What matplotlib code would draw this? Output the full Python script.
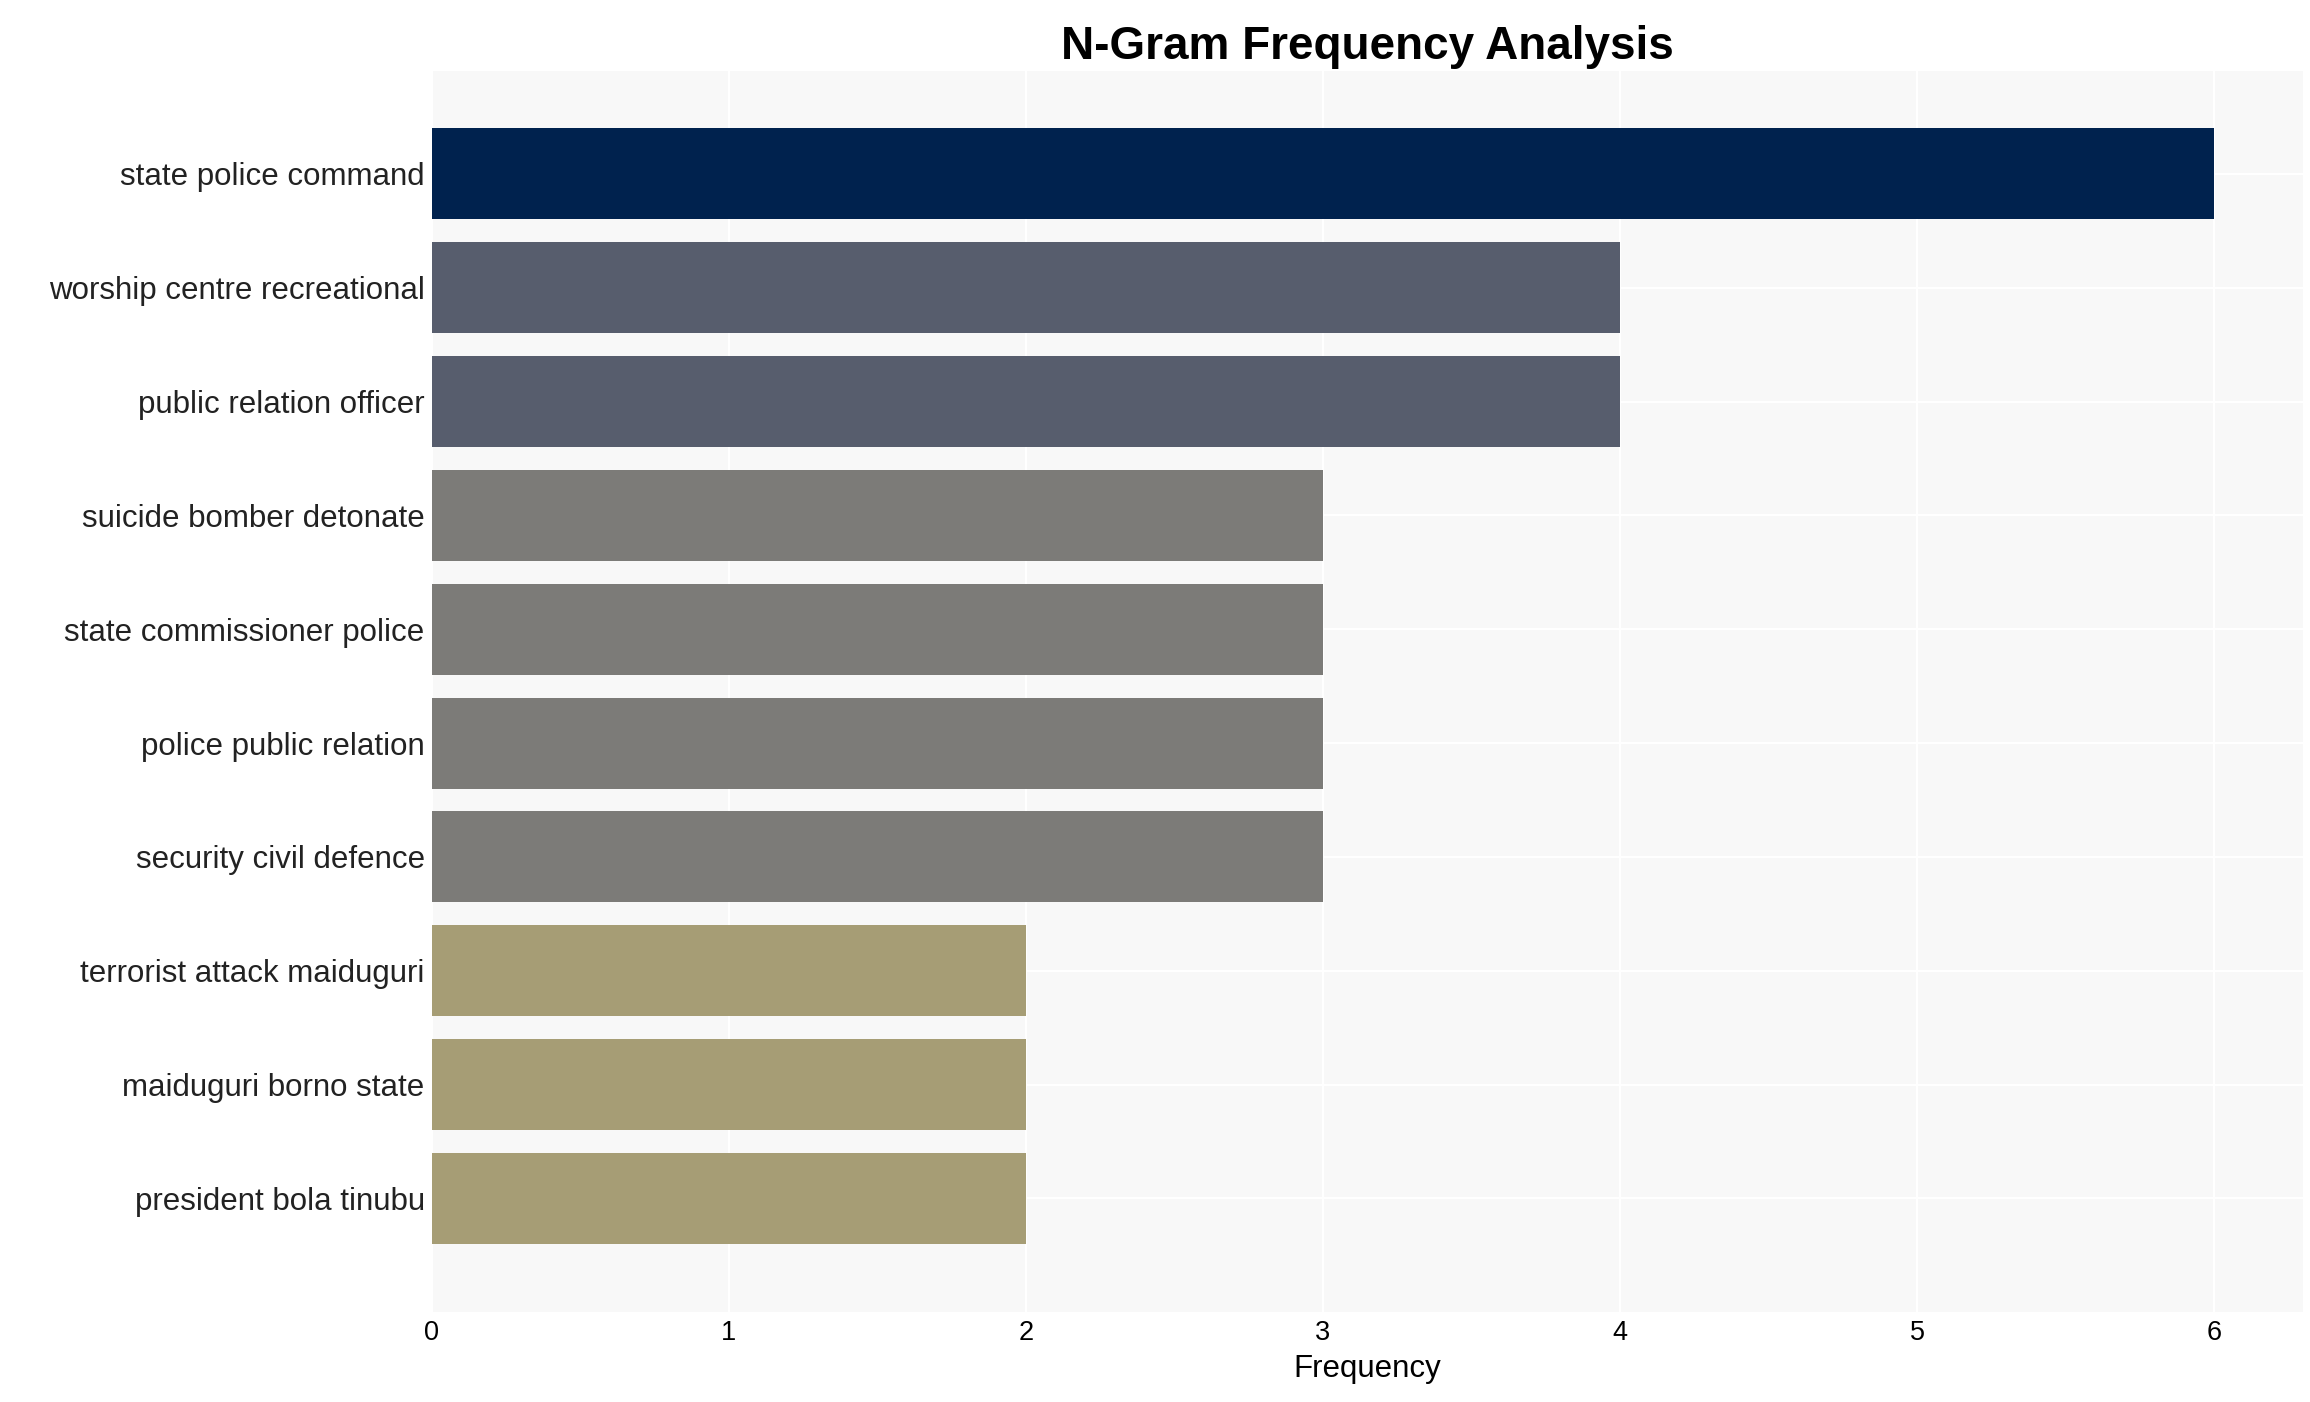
import matplotlib.pyplot as plt

plt.rcParams['font.family'] = ['Liberation Sans', 'DejaVu Sans']

ngrams = ['state police command', 'worship centre recreational', 'public relation officer',
          'suicide bomber detonate', 'state commissioner police', 'police public relation',
          'security civil defence', 'terrorist attack maiduguri', 'maiduguri borno state',
          'president bola tinubu']
counts = [6, 4, 4, 3, 3, 3, 3, 2, 2, 2]
colour_for = {6: '#00224e', 4: '#575d6d', 3: '#7c7b78', 2: '#a69d75'}

fig = plt.figure(figsize=(15.4, 9.347), dpi=150)
ax = fig.add_axes([0.187, 0.064, 0.810, 0.885])
ax.set_facecolor('#f8f8f8')
y = list(range(len(ngrams)))
ax.barh(y, counts, height=0.8, color=[colour_for[c] for c in counts], zorder=2)
ax.set_yticks(y)
ax.set_yticklabels(ngrams, fontsize=15, color='#222222')
ax.invert_yaxis()
ax.set_ylim(len(ngrams) - 0.5 + 0.0, -1.0)
ax.set_ylim(9.5 + 0.0, -0.5 - 0.0)
ax.set_ylim(10.0, -0.9)
ax.set_xlim(0, 6.3)
ax.tick_params(axis='x', labelsize=13, length=0)
ax.tick_params(axis='y', length=0)
ax.set_xlabel('Frequency', fontsize=15)
ax.set_title('N-Gram Frequency Analysis', fontsize=22, fontweight='bold', pad=6)
ax.grid(True, color='white', linewidth=1, zorder=0)
ax.set_axisbelow(True)
for s in ax.spines.values():
    s.set_visible(False)

fig.savefig('out.png', dpi=150)
